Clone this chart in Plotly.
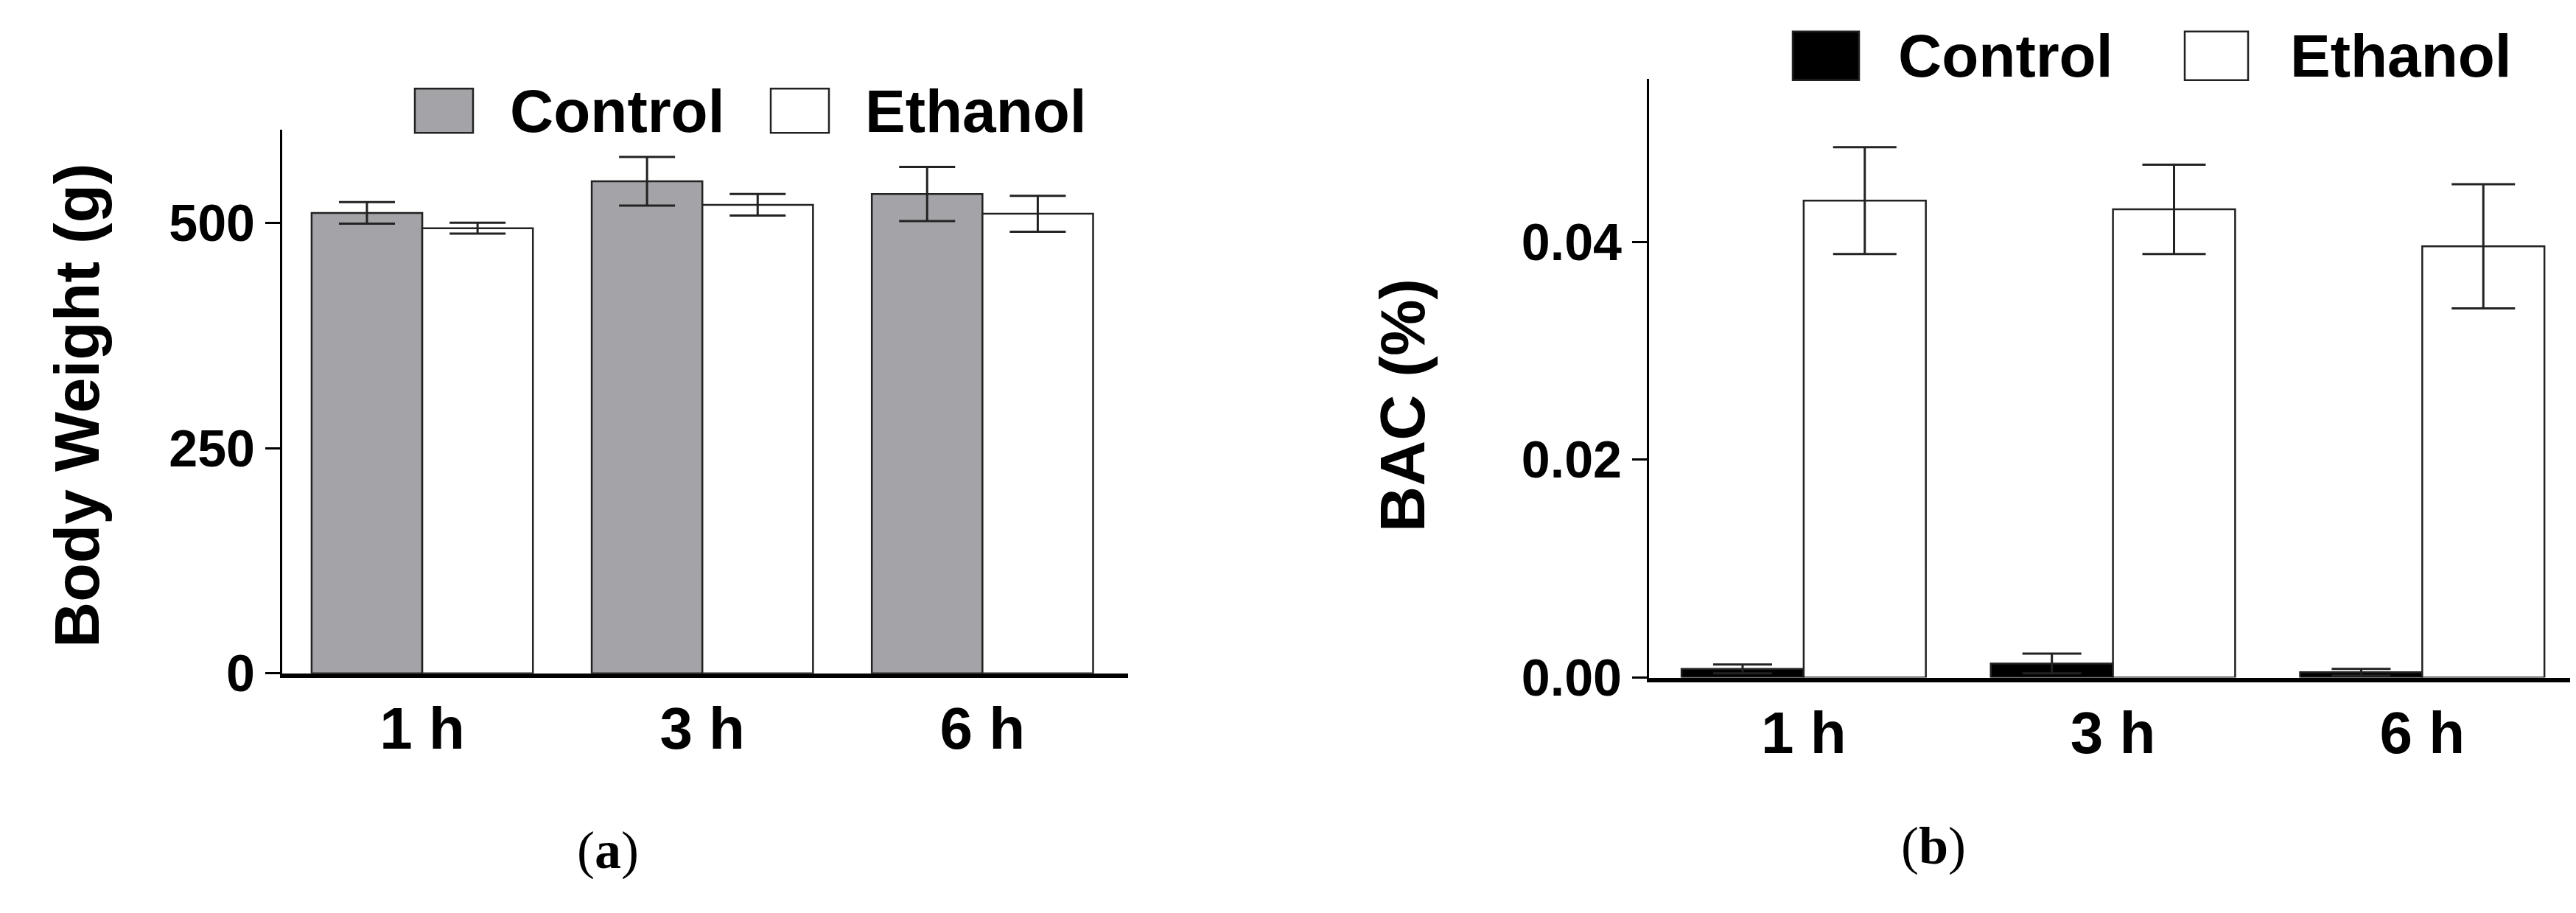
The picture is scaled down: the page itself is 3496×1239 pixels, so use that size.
import plotly.graph_objects as go

W, H = 3496, 1239

times = ["1 h", "3 h", "6 h"]
bw_control = [511, 546, 532]
bw_control_err = [12, 27, 30]
bw_ethanol = [494, 520, 510]
bw_ethanol_err = [6, 12, 20]
bac_control = [0.0008, 0.0013, 0.0005]
bac_control_err = [0.0004, 0.0009, 0.0003]
bac_ethanol = [0.0438, 0.0430, 0.0396]
bac_ethanol_err = [0.0049, 0.0041, 0.0057]


def px(x):
    return x / W


def py(y):
    return 1 - y / H


font_cond = "Liberation Sans Narrow, Liberation Sans, Arial"
font_bold = "Liberation Sans, Arial"
line_col = "#222222"

fig = go.Figure()


def add_bar(y, err, color, axis, cap):
    fig.add_trace(go.Bar(
        x=times, y=y,
        xaxis="x" + axis, yaxis="y" + axis,
        marker=dict(color=color, line=dict(color=line_col, width=2.5)),
        error_y=dict(type="data", array=err, color=line_col, thickness=3, width=cap),
        showlegend=False,
    ))


add_bar(bw_control, bw_control_err, "#a4a3a8", "", 38)
add_bar(bw_ethanol, bw_ethanol_err, "white", "", 38)
add_bar(bac_control, bac_control_err, "black", "2", 40)
add_bar(bac_ethanol, bac_ethanol_err, "white", "2", 43)

xcommon = dict(
    showline=True, linecolor="black", linewidth=6, ticks="", showgrid=False,
    tickfont=dict(family=font_cond, size=80, color="black", weight="bold"), zeroline=False,
)
ycommon = dict(
    showline=True, linecolor="black", linewidth=3, ticks="outside", ticklen=20,
    tickwidth=3, tickcolor="black", showgrid=False, zeroline=False,
    tickfont=dict(family=font_cond, size=70, color="black", weight="bold"),
)

fig.update_layout(
    width=W, height=H,
    margin=dict(l=0, r=0, t=0, b=0),
    plot_bgcolor="white", paper_bgcolor="white",
    barmode="group", bargap=0.21, bargroupgap=0,
    xaxis=dict(domain=[px(375), px(1523)], range=[-0.5, 2.52], anchor="y", **xcommon),
    yaxis=dict(domain=[py(936), py(174)], range=[0, 603], anchor="x",
               tickvals=[0, 250, 500], **ycommon),
    xaxis2=dict(domain=[px(2230), px(3485)], range=[-0.5, 2.49], anchor="y2", **xcommon),
    yaxis2=dict(domain=[py(942), py(102)], range=[0, 0.055], anchor="x2",
                tickvals=[0, 0.02, 0.04], tickformat=".2f", **ycommon),
)

# y axis titles
fig.add_annotation(x=px(96), y=py(560), xref="paper", yref="paper", text="<b>Body Weight (g)</b>",
                   textangle=-90, showarrow=False, xanchor="center", yanchor="middle",
                   font=dict(family=font_bold, size=86, color="black"))
fig.add_annotation(x=px(1895), y=py(560), xref="paper", yref="paper", text="<b>BAC (%)</b>",
                   textangle=-90, showarrow=False, xanchor="center", yanchor="middle",
                   font=dict(family=font_bold, size=86, color="black"))

# panel labels
fig.add_annotation(x=px(773), y=py(1184), xref="paper", yref="paper", text="(<b>a</b>)",
                   showarrow=False, yanchor="middle",
                   font=dict(family="Liberation Serif, Times New Roman", size=72, color="black"))
fig.add_annotation(x=px(2662), y=py(1178), xref="paper", yref="paper", text="(<b>b</b>)",
                   showarrow=False, yanchor="middle",
                   font=dict(family="Liberation Serif, Times New Roman", size=72, color="black"))

# legends
legends = [
    (555, 634, 116, 178, "#a4a3a8", 682, "Control"),
    (1038, 1117, 116, 178, "white", 1164, "Ethanol"),
    (2425, 2515, 36, 104, "black", 2566, "Control"),
    (2957, 3043, 36, 104, "white", 3098, "Ethanol"),
]
for x0, x1, y0, y1, col, tx, label in legends:
    fig.add_shape(type="rect", xref="paper", yref="paper", x0=px(x0), x1=px(x1), y0=py(y1), y1=py(y0),
                  fillcolor=col, line=dict(color=line_col, width=2.5))
    fig.add_annotation(x=px(tx), y=py((y0 + y1) / 2), xref="paper", yref="paper", text="<b>%s</b>" % label,
                       xanchor="left", yanchor="middle", showarrow=False,
                       font=dict(family=font_cond, size=82, color="black"))

fig.write_html("out.html")
